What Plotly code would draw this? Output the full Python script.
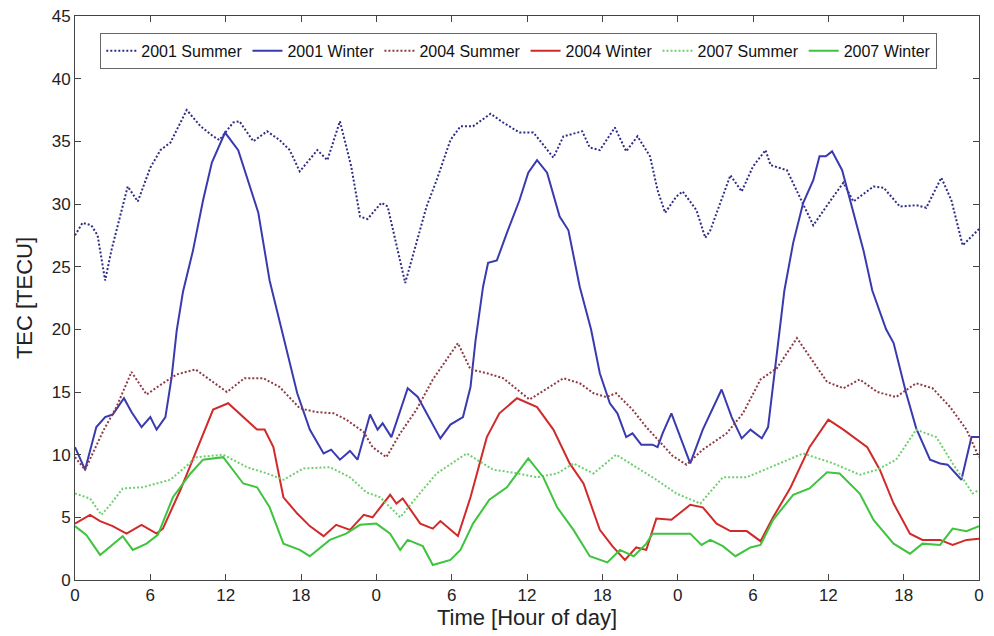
import plotly.graph_objects as go

# ---- data (hour since start of 3-day window, TEC in TECU) ----
s2001_h = [0, 0.6, 1.3, 1.8, 2.4, 2.9, 4.2, 5, 6, 6.8, 7.6, 8.4, 8.9, 10, 11, 11.5, 12.6, 13.1, 14.2, 15.3,
           16.3, 17.1, 17.9, 19.3, 20.1, 21.1, 22, 22.7, 23.3, 24.4, 24.9, 26.3, 28, 28.8, 29.9, 30.7, 31.7,
           33.1, 34.1, 35.4, 36.5, 37, 38.1, 38.9, 40.4, 41, 41.8, 43, 43.9, 44.8, 45.8, 46.4, 47, 47.9, 48.4,
           49.5, 50.2, 50.6, 52.2, 53.1, 54, 55, 55.4, 56.7, 57.7, 58.8, 60.4, 61.2, 62, 63.6, 64.4, 65.7, 67,
           67.8, 69, 69.8, 70.7, 71.8, 72]
s2001_v = [27.5, 28.5, 28.3, 27.5, 23.9, 26.3, 31.4, 30.2, 32.9, 34.3, 34.9, 36.5, 37.5, 36.2, 35.4, 35.1, 36.5,
           36.6, 35.0, 35.8, 35.1, 34.3, 32.6, 34.3, 33.5, 36.6, 33.0, 29.0, 28.8, 30.1, 29.8, 23.7, 29.8, 31.9,
           35.1, 36.2, 36.2, 37.2, 36.5, 35.7, 35.7, 35.1, 33.7, 35.4, 35.8, 34.5, 34.3, 36.1, 34.2, 35.4, 33.8,
           31.1, 29.3, 30.6, 31.0, 29.5, 27.3, 27.9, 32.3, 31.0, 33.0, 34.3, 33.1, 32.7, 30.6, 28.3, 30.6, 31.7,
           30.2, 31.4, 31.3, 29.8, 29.9, 29.7, 32.1, 30.3, 26.7, 27.8, 28.0]

w2001_h = [0, 0.8, 1.7, 2.4, 3, 3.9, 4.5, 5.3, 6, 6.5, 7.2, 7.7, 8.1, 8.6, 9.4, 10.2, 10.9, 11.95, 13, 13.5,
           14.6, 15.5, 16.6, 17.7, 18.7, 19.8, 20.4, 21.1, 21.9, 22.5, 23.5, 24.1, 24.5, 25.2, 26.5, 27.3, 29.1,
           29.9, 30.9, 31.5, 31.9, 32.5, 32.9, 33.6, 34.4, 35.4, 36.1, 36.8, 37.6, 38.6, 39.3, 40.2, 41.1, 41.8,
           42.6, 43.2, 43.9, 44.4, 45.1, 46, 46.4, 46.8, 47.5, 47.9, 49, 50, 51.5, 52.3, 53.1, 53.8, 54.7, 55.2,
           55.8, 56.1, 56.5, 57.2, 58, 58.8, 59.3, 59.8, 60.3, 61.1, 62, 62.8, 63.5, 64.6, 65.2, 66.2, 67, 68.1,
           68.9, 69.5, 70.6, 71.4, 72]
w2001_v = [10.6, 8.8, 12.2, 13.0, 13.2, 14.5, 13.4, 12.2, 13.0, 12.0, 13.0, 16.2, 19.9, 23.0, 26.3, 30.3, 33.3,
           35.7, 34.3, 32.7, 29.3, 23.9, 19.4, 14.9, 12.0, 10.1, 10.4, 9.6, 10.3, 9.6, 13.2, 12.0, 12.5, 11.4,
           15.3, 14.6, 11.3, 12.4, 13.0, 15.4, 19.1, 23.4, 25.3, 25.5, 27.7, 30.3, 32.5, 33.5, 32.5, 29.0, 27.9,
           23.4, 20.0, 16.5, 14.1, 13.3, 11.4, 11.7, 10.8, 10.8, 10.6, 11.7, 13.3, 12.2, 9.3, 12.0, 15.2, 13.0,
           11.3, 12.0, 11.3, 12.2, 17.3, 20.0, 23.1, 26.9, 30.1, 31.9, 33.8, 33.8, 34.2, 32.7, 29.3, 26.3, 23.1,
           20.0, 18.9, 14.9, 12.1, 9.6, 9.3, 9.2, 8.0, 11.4, 11.4]

s2004_h = [0, 0.8, 2.3, 3.3, 4.5, 5.7, 7, 8.1, 9.6, 11, 12.1, 13.5, 15, 16.3, 17.9, 19.2, 20.6, 21.6, 23, 23.7,
           24.8, 25.9, 27.2, 28.5, 30.5, 31.5, 32.8, 34.1, 35.2, 36.2, 37, 38.9, 40.2, 41.3, 42.3, 43.1, 44.4,
           45.5, 46.6, 47.6, 48.7, 50, 51.9, 53.2, 54.6, 55.9, 57.5, 58.3, 59.9, 61.2, 62.5, 63.9, 65.4, 67,
           68.3, 69.7, 71, 72]
s2004_v = [9.8, 8.8, 12.0, 13.8, 16.6, 14.8, 15.7, 16.4, 16.8, 15.8, 15.0, 16.1, 16.1, 15.4, 13.7, 13.4, 13.3,
           12.8, 11.8, 10.6, 9.8, 11.7, 13.6, 16.0, 18.9, 16.8, 16.5, 16.1, 15.2, 14.4, 14.9, 16.1, 15.7, 14.9,
           14.6, 14.9, 13.6, 12.2, 11.0, 9.9, 9.2, 10.4, 11.7, 13.3, 16.0, 16.9, 19.3, 18.1, 15.8, 15.3, 16.0,
           15.0, 14.6, 15.7, 15.3, 13.8, 12.0, 9.8]

w2004_h = [0, 1.2, 2, 3, 4.1, 5.3, 6.5, 7, 8.4, 9.7, 11, 12.2, 13.4, 14.5, 15.1, 15.8, 16.6, 17.7, 18.7, 19.8,
           20.8, 21.9, 23, 23.7, 25.1, 25.6, 26.1, 27.5, 28.5, 29.1, 30.5, 31.5, 32.8, 33.8, 35.2, 36.8, 38.1,
           39.4, 40.5, 41.8, 42.8, 43.8, 44.7, 45.5, 46.3, 47.5, 49, 50, 51.1, 52.2, 53.5, 54.6, 55.6, 57, 58.5,
           60, 61.2, 63.1, 64.1, 65.2, 66.5, 67.5, 68.9, 69.9, 71, 72]
w2004_v = [4.5, 5.2, 4.7, 4.3, 3.7, 4.4, 3.7, 4.1, 7.2, 10.4, 13.6, 14.1, 13.0, 12.0, 12.0, 10.6, 6.6, 5.3, 4.3,
           3.5, 4.4, 4.0, 5.2, 5.0, 6.8, 6.1, 6.5, 4.5, 4.1, 4.7, 3.5, 6.6, 11.4, 13.3, 14.5, 13.8, 12.0, 9.3,
           7.7, 4.0, 2.7, 1.6, 2.6, 2.4, 4.9, 4.8, 6.0, 5.8, 4.5, 3.9, 3.9, 3.1, 5.0, 7.4, 10.6, 12.8, 12.0,
           10.6, 8.8, 6.1, 3.7, 3.2, 3.2, 2.8, 3.2, 3.3]

s2007_h = [0, 1.2, 2.1, 2.8, 3.8, 5.4, 7.6, 9.7, 11.8, 13.7, 15.3, 16.6, 18.2, 20.3, 21.9, 23.2, 24.3, 25.9,
           27.2, 28.8, 31.2, 33.3, 34.7, 36.8, 38.4, 39.7, 41.3, 43.1, 44.7, 46.3, 47.9, 49.8, 51.6, 53.5, 55.4,
           58, 60.4, 62.5, 63.9, 65.4, 67, 68.6, 69.9, 71.5, 72]
s2007_v = [6.9, 6.5, 5.2, 6.0, 7.3, 7.4, 8.0, 9.8, 10.0, 9.0, 8.5, 8.0, 8.9, 9.0, 8.2, 7.0, 6.6, 5.0, 6.6, 8.5,
           10.1, 8.8, 8.6, 8.2, 8.5, 9.3, 8.5, 10.0, 9.0, 8.0, 6.9, 6.1, 8.2, 8.2, 9.0, 10.1, 9.3, 8.4, 8.8, 9.6,
           12.0, 11.4, 9.3, 6.9, 7.2]

w2007_h = [0, 0.9, 2, 3, 3.8, 4.6, 5.7, 6.6, 7.8, 9.2, 10.2, 11.8, 13.4, 14.5, 15.5, 16.6, 17.9, 18.7, 20.3,
           21.6, 22.7, 24, 25.1, 25.9, 26.5, 27.7, 28.5, 29.9, 30.7, 31.7, 33, 34.4, 36.1, 37.3, 38.4, 39.7, 41,
           42.4, 43.4, 44.5, 45.5, 46, 47.6, 49, 49.9, 50.6, 51.6, 52.6, 53.8, 54.6, 55.6, 57.2, 58.5, 59.9,
           60.9, 62.5, 63.6, 65.2, 66.5, 67.5, 68.9, 69.9, 71, 72]
w2007_v = [4.3, 3.6, 2.0, 2.8, 3.5, 2.4, 2.9, 3.6, 6.6, 8.5, 9.6, 9.8, 7.7, 7.4, 5.8, 2.9, 2.4, 1.9, 3.2, 3.7,
           4.4, 4.5, 3.7, 2.4, 3.2, 2.7, 1.2, 1.6, 2.4, 4.5, 6.4, 7.4, 9.7, 8.2, 5.8, 4.0, 1.9, 1.4, 2.4, 1.9,
           2.9, 3.7, 3.7, 3.7, 2.8, 3.2, 2.7, 1.9, 2.6, 2.8, 4.8, 6.8, 7.3, 8.6, 8.5, 6.9, 4.8, 2.9, 2.1, 2.9,
           2.8, 4.1, 3.9, 4.3]

tick_hours = [0, 6, 12, 18, 24, 30, 36, 42, 48, 54, 60, 66, 72]
tick_labels = ["0", "6", "12", "18", "0", "6", "12", "18", "0", "6", "12", "18", "0"]

series = [
    ("2001 Summer", s2001_h, s2001_v, "#2e2e86", "2px,2px"),
    ("2001 Winter", w2001_h, w2001_v, "#3a3ab0", "solid"),
    ("2004 Summer", s2004_h, s2004_v, "#8e3a44", "2px,2px"),
    ("2004 Winter", w2004_h, w2004_v, "#d02a2a", "solid"),
    ("2007 Summer", s2007_h, s2007_v, "#6fcf6f", "2px,2px"),
    ("2007 Winter", w2007_h, w2007_v, "#3ec43e", "solid"),
]

fig = go.Figure()
for name, hx, vy, col, dash in series:
    fig.add_trace(go.Scatter(x=hx, y=vy, mode="lines", name=name,
                             line=dict(color=col, width=2, dash=dash)))

axis_common = dict(showgrid=False, zeroline=False, showline=True, linecolor="#444",
                   linewidth=1, mirror="ticks", ticks="inside", ticklen=6, tickcolor="#444",
                   automargin=False, ticklabeloverflow="allow",
                   tickfont=dict(family="Liberation Sans, Arial", size=17, color="#222"))

# page body has an 8px default margin, so the figure is 8px smaller and margins shifted
fig.update_layout(
    width=986, height=628,
    margin=dict(l=67, r=15, t=8, b=56),
    paper_bgcolor="white", plot_bgcolor="white",
    font=dict(family="Liberation Sans, Arial", color="#222"),
    xaxis=dict(range=[0, 72], tickvals=tick_hours, ticktext=tick_labels,
               title=dict(text="Time [Hour of day]", font=dict(size=22), standoff=2), **axis_common),
    yaxis=dict(range=[0, 45], tickvals=list(range(0, 50, 5)),
               title=dict(text="TEC [TECU]", font=dict(size=22), standoff=12), **axis_common),
    legend=dict(orientation="h", x=0.028, y=0.97, xanchor="left", yanchor="top",
                bgcolor="white", bordercolor="#666", borderwidth=1,
                font=dict(size=16, color="#111"), itemwidth=30, tracegroupgap=0),
    showlegend=True,
)

fig.write_html("out.html")
